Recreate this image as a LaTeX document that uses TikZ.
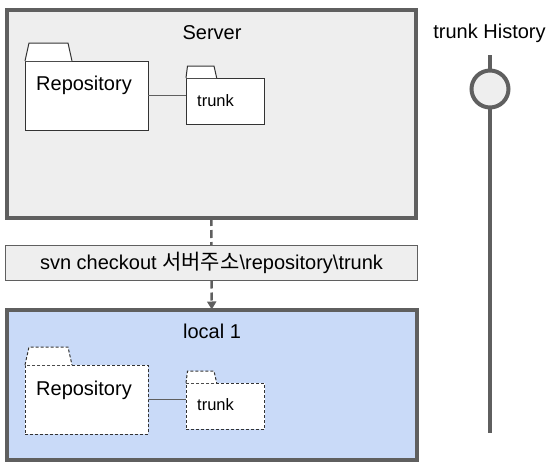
\documentclass[tikz,border=0pt]{standalone}
\usepackage{fontspec}
\setmainfont{Liberation Sans}
\newfontfamily\krfont{Noto Sans CJK KR}
\usetikzlibrary{arrows.meta}

\definecolor{framegray}{HTML}{5F5F5F}
\definecolor{panelgray}{HTML}{EEEEEE}
\definecolor{localblue}{HTML}{C9DAF8}

\begin{document}
\begin{tikzpicture}[x=1pt, y=-1pt,
    panel/.style={draw=framegray, line width=4pt, fill=#1, outer sep=0pt},
    folder/.style={draw=black!80, line width=1pt, fill=white, outer sep=0pt},
    dashfolder/.style={folder, dash pattern=on 3pt off 2pt},
    link/.style={draw=framegray, line width=1pt},
    big/.style={font=\fontsize{20}{24}\selectfont, inner sep=0pt},
    small/.style={font=\fontsize{16.5}{20}\selectfont, inner sep=0pt}]
    \useasboundingbox (0,0) rectangle (550,466);

    % Server
    \node[panel=panelgray, minimum width=409.5pt, minimum height=208.5pt] (server) at (211.25,113.75) {};
    \node[big, anchor=base] (servertxt) at (212,39) {Server};
    \node[folder, minimum width=123pt, minimum height=69pt] (srvrepo) at (86.5,95.5) {};
    \draw[folder] (srvrepo.north west) -- ++(4,-18) -- ++(39,0) -- ++(4,18);
    \node[big, anchor=base west] (srvrepotxt) at (36,90.7) {Repository};
    \node[folder, minimum width=78.5pt, minimum height=46pt] (srvtrunk) at (225.25,101) {};
    \draw[folder] (srvtrunk.north west) -- ++(1.5,-12) -- ++(26.5,0) -- ++(2.7,12);
    \node[small, anchor=base west] (srvtrunktxt) at (197,106) {trunk};
    \draw[link] (srvrepo.east) -- (srvrepo.east -| srvtrunk.west);

    % checkout
    \node[draw=framegray, line width=1pt, fill=panelgray, minimum width=412pt, minimum height=35pt,
        big, outer sep=0pt] (checkout) at (211.5,263) {svn checkout {\krfont\fontsize{21}{24}\selectfont 서버주소}\textbackslash repository\textbackslash trunk};
    \draw[framegray, line width=2.5pt, dash pattern=on 8pt off 4pt] (server.south) -- (checkout.north);

    % local 1
    \node[panel=localblue, minimum width=410.5pt, minimum height=150pt] (local) at (211.75,384.5) {};
    \draw[framegray, line width=2.5pt, dash pattern=on 8pt off 4pt, -{Triangle[width=9pt,length=8pt]}]
        (checkout.south) -- (local.north);
    \node[big, anchor=base] (localtxt) at (212,338) {local 1};
    \node[dashfolder, minimum width=123pt, minimum height=69pt] (locrepo) at (86.5,399.5) {};
    \draw[dashfolder] (locrepo.north west) -- ++(4,-18) -- ++(39,0) -- ++(4,18);
    \node[big, anchor=base west] (locrepotxt) at (36,395) {Repository};
    \node[dashfolder, minimum width=78.5pt, minimum height=46pt] (loctrunk) at (225.25,406) {};
    \draw[dashfolder] (loctrunk.north west) -- ++(1.5,-12) -- ++(26.5,0) -- ++(2.7,12);
    \node[small, anchor=base west] (loctrunktxt) at (197,410.5) {trunk};
    \draw[link] (locrepo.east) -- (locrepo.east -| loctrunk.west);

    % trunk History
    \node[big, anchor=base] (histtxt) at (489.5,38.5) {trunk History};
    \coordinate (histtop) at (490,55);
    \coordinate (histend) at (490,433);
    \draw[framegray, line width=4pt] (histtop) -- (histend);
    \node[circle, draw=framegray, line width=4pt, fill=panelgray, minimum size=37pt, inner sep=0pt] (rev) at (490,89) {};
\end{tikzpicture}
\end{document}
